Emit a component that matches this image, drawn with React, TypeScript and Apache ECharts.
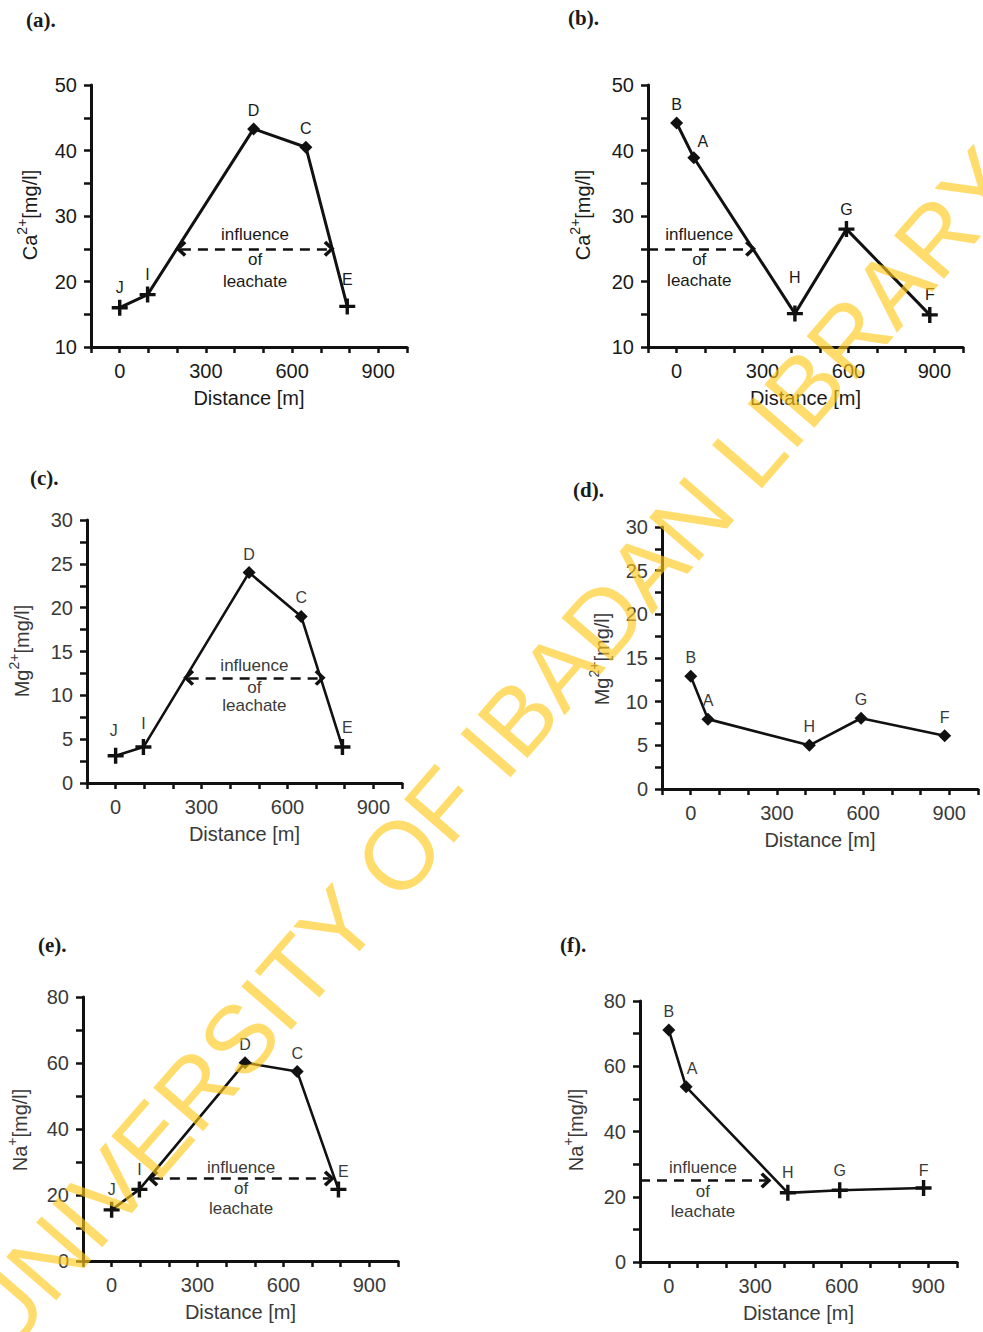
import React, { useEffect, useRef } from "react";
import * as echarts from "echarts";

// ---- data ----
const sitesUp = ["J", "I", "D", "C", "E"];
const sitesDown = ["B", "A", "H", "G", "F"];
const distUp = [0, 97, 466, 648, 792];
const distDown = [0, 60, 413, 593, 884];

const caUp = [16, 18, 43.3, 40.5, 16.2];
const caDown = [44.2, 38.9, 15.1, 28, 14.9];
const mgUp = [3.1, 4.1, 24, 19, 4.1];
const mgDown = [12.9, 8, 5, 8.1, 6.1];
const naUp = [15.5, 21.7, 60.1, 57.4, 21.7];
const naDown = [71.1, 53.7, 21.2, 22, 22.7];

const markUp = ["plus", "plus", "diamond", "diamond", "plus"];
const markDownCaNa = ["diamond", "diamond", "plus", "plus", "plus"];
const markDownMg = ["diamond", "diamond", "diamond", "diamond", "diamond"];

const xTickLabels = [0, 300, 600, 900];
const caTickLabels = [10, 20, 30, 40, 50];
const mgTickLabels = [0, 5, 10, 15, 20, 25, 30];
const naTickLabels = [0, 20, 40, 60, 80];

// influence of leachate arrows: [from, to, level]
const leachA = [213, 729, 25];
const leachB = [-100, 258, 25];
const leachC = [255, 714, 12];
const leachE = [144, 760, 25];
const leachF = [-100, 337, 25];

const PLUS = "path://M5.5,0 H8.5 V5.5 H14 V8.5 H8.5 V14 H5.5 V8.5 H0 V5.5 H5.5 Z";
const CHEVRON = "path://M0,10 L10,0 L20,10 L17,13 L10,6 L3,13 Z";
const INK = "#111";

type Panel = {
  tag: string;
  tagPos: [number, number];
  tagFont: string;
  grid: { left: number; top: number; width: number; height: number };
  yMin: number;
  yMax: number;
  yStep: number;
  yLabels: number[];
  ion: string;
  sup: string;
  titlePos: [number, number];
  sites: string[];
  dist: number[];
  vals: number[];
  marks: string[];
  leach: number[] | null;
  heads: string[];
  upDist: number;
  lowDist: number;
  lowLH: number;
  txt: string;
  lineW: number;
  tweaks: Record<string, [number, number]>;
};

const panels: Panel[] = [
  {
    tag: "(a).", tagPos: [26, 20], tagFont: "Liberation Sans Narrow",
    grid: { left: 91, top: 85, width: 316, height: 262 },
    yMin: 10, yMax: 50, yStep: 5, yLabels: caTickLabels,
    ion: "Ca", sup: "2+", titlePos: [30, 215],
    sites: sitesUp, dist: distUp, vals: caUp, marks: markUp,
    leach: leachA, heads: ["chev", "chev"], upDist: 6, lowDist: 0, lowLH: 22,
    txt: "#1a1a1a", lineW: 3, tweaks: { E: [0, -7] },
  },
  {
    tag: "(b).", tagPos: [568, 18], tagFont: "Liberation Sans Narrow",
    grid: { left: 648, top: 85, width: 315, height: 262 },
    yMin: 10, yMax: 50, yStep: 5, yLabels: caTickLabels,
    ion: "Ca", sup: "2+", titlePos: [583, 215],
    sites: sitesDown, dist: distDown, vals: caDown, marks: markDownCaNa,
    leach: leachB, heads: ["none", "chev"], upDist: 6, lowDist: 0, lowLH: 21,
    txt: "#1a1a1a", lineW: 3, tweaks: { H: [0, -16], A: [9, 2] },
  },
  {
    tag: "(c).", tagPos: [30, 478], tagFont: "Liberation Serif",
    grid: { left: 87, top: 520, width: 315, height: 263 },
    yMin: 0, yMax: 30, yStep: 2.5, yLabels: mgTickLabels,
    ion: "Mg", sup: "2+", titlePos: [22, 651],
    sites: sitesUp, dist: distUp, vals: mgUp, marks: markUp,
    leach: leachC, heads: ["chev", "chev"], upDist: 4, lowDist: -1, lowLH: 18,
    txt: "#3a3a3a", lineW: 2.6, tweaks: { J: [-2, -5], I: [0, -4], E: [5, 0] },
  },
  {
    tag: "(d).", tagPos: [573, 490], tagFont: "Liberation Serif",
    grid: { left: 662, top: 527, width: 316, height: 262 },
    yMin: 0, yMax: 30, yStep: 2.5, yLabels: mgTickLabels,
    ion: "Mg", sup: "2+", titlePos: [602, 659],
    sites: sitesDown, dist: distDown, vals: mgDown, marks: markDownMg,
    leach: null, heads: [], upDist: 4, lowDist: 0, lowLH: 20,
    txt: "#3a3a3a", lineW: 2.6, tweaks: {},
  },
  {
    tag: "(e).", tagPos: [38, 945], tagFont: "Liberation Serif",
    grid: { left: 83, top: 997, width: 315, height: 264 },
    yMin: 0, yMax: 80, yStep: 10, yLabels: naTickLabels,
    ion: "Na", sup: "+", titlePos: [20, 1130],
    sites: sitesUp, dist: distUp, vals: naUp, marks: markUp,
    leach: leachE, heads: ["chev", "chev"], upDist: 3, lowDist: 0, lowLH: 20,
    txt: "#3a3a3a", lineW: 2.6, tweaks: { E: [5, 2] },
  },
  {
    tag: "(f).", tagPos: [560, 945], tagFont: "Liberation Serif",
    grid: { left: 640, top: 1001, width: 317, height: 261 },
    yMin: 0, yMax: 80, yStep: 10, yLabels: naTickLabels,
    ion: "Na", sup: "+", titlePos: [576, 1130],
    sites: sitesDown, dist: distDown, vals: naDown, marks: markDownCaNa,
    leach: leachF, heads: ["none", "chev"], upDist: 4, lowDist: -1, lowLH: 20,
    txt: "#3a3a3a", lineW: 2.6, tweaks: { A: [6, 0], F: [0, 3] },
  },
];

const FONT = "Liberation Sans";

export default function App() {
  const ref = useRef<HTMLDivElement>(null);

  useEffect(() => {
    if (!ref.current) return;
    const chart = echarts.init(ref.current, undefined, { renderer: "svg" });

    const grids: any[] = [];
    const xAxes: any[] = [];
    const yAxes: any[] = [];
    const series: any[] = [];
    const graphics: any[] = [];

    panels.forEach((p, i) => {
      grids.push({ ...p.grid, containLabel: false });
      xAxes.push({
        gridIndex: i,
        type: "value",
        min: -100,
        max: 1000,
        interval: 100,
        axisLine: { onZero: false, lineStyle: { color: INK, width: 3 } },
        axisTick: { show: true, length: 6, lineStyle: { color: INK, width: 2.5 } },
        axisLabel: {
          margin: 14,
          fontSize: 20,
          fontFamily: FONT,
          color: p.txt,
          formatter: (v: number) => (xTickLabels.includes(v) ? String(v) : ""),
        },
        splitLine: { show: false },
        name: "Distance [m]",
        nameLocation: "middle",
        nameGap: 41,
        nameTextStyle: { fontSize: 20, fontFamily: FONT, color: p.txt },
      });
      yAxes.push({
        gridIndex: i,
        type: "value",
        min: p.yMin,
        max: p.yMax,
        interval: p.yStep,
        axisLine: { show: true, onZero: false, lineStyle: { color: INK, width: 3 } },
        axisTick: { show: true, length: 7, lineStyle: { color: INK, width: 2.5 } },
        axisLabel: {
          margin: 14,
          fontSize: 20,
          fontFamily: FONT,
          color: p.txt,
          formatter: (v: number) => (p.yLabels.includes(v) ? String(v) : ""),
        },
        splitLine: { show: false },
      });

      const data = p.dist.map((x, j) => {
        const isPlus = p.marks[j] === "plus";
        const tw = p.tweaks[p.sites[j]];
        return {
          value: [x, p.vals[j]],
          name: p.sites[j],
          symbol: isPlus ? PLUS : "diamond",
          symbolSize: isPlus ? 16 : 13,
          label: tw ? { offset: tw } : undefined,
        };
      });

      const s: any = {
        type: "line",
        xAxisIndex: i,
        yAxisIndex: i,
        data,
        showAllSymbol: true,
        lineStyle: { color: INK, width: p.lineW },
        itemStyle: { color: INK },
        label: {
          show: true,
          position: "top",
          distance: 4,
          fontSize: 16,
          fontFamily: FONT,
          color: p.txt,
          formatter: (d: any) => d.name,
        },
        emphasis: { disabled: true },
        z: 3,
      };
      if (p.leach) {
        const [x1, x2, lvl] = p.leach;
        const baseLabel = {
          show: true,
          position: "middle",
          align: "center",
          fontSize: 17,
          fontFamily: FONT,
          color: p.txt,
        };
        s.markLine = {
          silent: true,
          symbol: "none",
          symbolSize: [16, 11],
          lineStyle: { color: INK, width: 2.5, type: [10, 7] },
          emphasis: { disabled: true },
          data: [
            [
              {
                coord: [x1, lvl],
                symbol: p.heads[0] === "chev" ? CHEVRON : "none",
                label: { ...baseLabel, formatter: "influence", verticalAlign: "bottom", distance: p.upDist },
              },
              { coord: [x2, lvl], symbol: p.heads[1] === "chev" ? CHEVRON : "none" },
            ],
            [
              {
                coord: [x1, lvl],
                symbol: "none",
                lineStyle: { color: "rgba(0,0,0,0)", width: 0.01, type: "solid" },
                label: {
                  ...baseLabel,
                  formatter: "of\nleachate",
                  verticalAlign: "top",
                  lineHeight: p.lowLH,
                  distance: p.lowDist,
                },
              },
              { coord: [x2, lvl], symbol: "none" },
            ],
          ],
        };
      }
      series.push(s);

      // y-axis title (rotated, with superscript)
      graphics.push({
        type: "text",
        x: p.titlePos[0],
        y: p.titlePos[1],
        rotation: Math.PI / 2,
        silent: true,
        style: {
          text: `{n|${p.ion}}{s|${p.sup}}{n|[mg/l]}`,
          align: "center",
          verticalAlign: "middle",
          fill: p.txt,
          rich: {
            n: { fontSize: 20, fontFamily: FONT, lineHeight: 30, verticalAlign: "middle", fill: p.txt },
            s: { fontSize: 14, fontFamily: FONT, lineHeight: 30, verticalAlign: "top", fill: p.txt },
          },
        },
      });
      // panel tag
      graphics.push({
        type: "text",
        x: p.tagPos[0],
        y: p.tagPos[1],
        silent: true,
        style: {
          text: p.tag,
          fontSize: 21,
          fontWeight: "bold",
          fontFamily: p.tagFont,
          fill: "#1a1a1a",
          align: "left",
          verticalAlign: "middle",
        },
      });
    });

    // watermark
    graphics.push({
      type: "text",
      x: 490,
      y: 750,
      rotation: (49.0 * Math.PI) / 180,
      silent: true,
      z: 100,
      style: {
        text: "UNIVERSITY OF IBADAN LIBRARY",
        fontSize: 96,
        fontFamily: FONT,
        fill: "rgba(255, 200, 25, 0.64)",
        align: "center",
        verticalAlign: "middle",
      },
    });

    chart.setOption({
      animation: false,
      backgroundColor: "#ffffff",
      grid: grids,
      xAxis: xAxes,
      yAxis: yAxes,
      series,
      graphic: { elements: graphics },
    });

    return () => chart.dispose();
  }, []);

  return (
    <div
      ref={ref}
      style={{ position: "absolute", left: 0, top: 0, width: 983, height: 1332 }}
    />
  );
}
